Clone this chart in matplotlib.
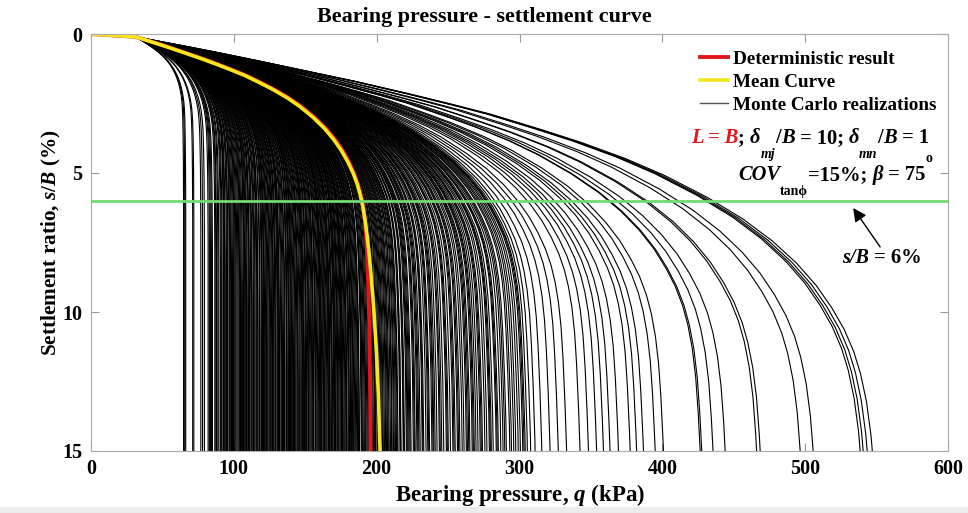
import numpy as np
import matplotlib
matplotlib.use('Agg')
import matplotlib.pyplot as plt
from matplotlib.lines import Line2D
from matplotlib.patches import Rectangle

plt.rcParams['font.family'] = ['Liberation Serif', 'DejaVu Serif']
plt.rcParams['font.weight'] = 'bold'
plt.rcParams['axes.labelweight'] = 'bold'
plt.rcParams['mathtext.fontset'] = 'custom'
plt.rcParams['mathtext.it'] = 'Liberation Serif:italic:bold'
plt.rcParams['mathtext.rm'] = 'Liberation Serif:bold'
plt.rcParams['mathtext.bf'] = 'Liberation Serif:bold'

# deterministic result: settlement ratio s/B (%) and bearing pressure q (kPa)
s_det = [0, 0.1, 0.2, 0.35, 0.5, 0.7, 0.9, 1.1, 1.3, 1.5, 1.75, 2.0, 2.3, 2.6, 3.0,
         3.4, 3.8, 4.2, 4.6, 5.0, 5.4, 5.8, 6.2, 6.7, 7.3, 8.0, 9.0, 10.5, 12.5, 15]
q_det = [0, 31, 37.5, 47, 56, 67.5, 79, 89.5, 99.5, 109, 119, 128.5, 138.5, 147, 156.5,
         164.5, 171, 176.3, 180.6, 184, 186.8, 188.9, 190.4, 191.7, 192.7, 193.4, 194.1,
         194.9, 195.4, 195.8]

# mean of the realizations
s_mean = [0, 0.1, 0.2, 0.35, 0.5, 0.7, 0.9, 1.1, 1.3, 1.5, 1.75, 2.0, 2.3, 2.6, 3.0,
          3.4, 3.8, 4.2, 4.6, 5.0, 5.4, 5.8, 6.2, 6.7, 7.3, 8.0, 9.0, 10.2, 11.5, 13.0, 15]
q_mean = [0, 31, 37.3, 46.5, 55.3, 66.8, 78, 88.5, 98.5, 108, 118, 127.5, 137.5, 146,
          155.5, 163.5, 170, 175.4, 179.8, 183.5, 186.4, 188.6, 190.3, 191.9, 193.4,
          194.9, 196.6, 198.4, 199.9, 201.2, 202.4]

# Monte Carlo realizations, pressure reached at s/B = 15 %
q_mc = [64.8, 65.6, 66.3, 71.2, 72.0, 76.9, 78.1, 79.4,
        82.0, 82.9, 84.3, 85.0, 86.7, 87.4, 88.8, 89.5,
        90.6, 91.2, 92.7, 93.1, 94.0, 94.9, 95.5, 96.8, 97.2, 98.4, 99.1, 99.8,
        100.9, 101.5, 102.2, 103.6, 104.1, 105.3, 106.0, 106.8, 107.7, 108.9, 109.4,
        110.2, 111.0, 111.9, 112.5, 113.8, 114.3, 115.7, 116.2, 117.0, 118.4, 119.3,
        120.1, 120.8, 121.6, 122.9, 123.4, 124.7, 125.2, 126.5, 127.1, 128.0, 128.8, 129.6,
        130.4, 131.3, 132.0, 132.9, 134.1, 134.8, 135.5, 136.9, 137.4, 138.2, 139.0, 139.7,
        140.6, 141.2, 142.5, 143.0, 144.3, 145.1, 145.9, 147.2, 147.8, 148.6, 149.5,
        150.3, 151.0, 151.8, 152.7, 153.3, 154.6, 155.2, 156.0, 156.9, 157.5, 158.8, 159.4,
        160.1, 160.9, 161.7, 162.4, 163.5, 164.0, 165.2, 165.9, 166.8, 167.5, 168.3, 169.2,
        170.0, 170.7, 171.6, 172.3, 173.1, 174.4, 175.0, 175.8, 176.6, 177.9, 178.5, 179.3,
        180.2, 181.0, 181.8, 182.5, 183.7, 184.2, 185.4, 186.1, 187.3, 188.0, 189.2,
        190.0, 191.4, 192.1, 193.3, 194.0, 195.2, 196.5, 197.1, 198.6, 199.4,
        200.3, 201.5, 202.8, 203.4, 204.7, 205.5, 206.9, 207.6, 208.8, 209.7,
        210.5, 211.8, 212.4, 213.9, 215.0, 216.3, 217.1, 218.6, 219.5,
        220.8, 222.0, 223.4, 224.1, 225.7, 227.0, 228.2, 229.6,
        230.5, 231.9, 233.0, 234.6, 235.8, 237.1, 238.7, 239.5,
        241.0, 242.3, 243.9, 245.6, 247.0, 248.8,
        250.2, 251.7, 253.4, 255.0, 256.6, 258.3, 259.9,
        261.2, 262.8, 264.5, 265.3, 266.9, 268.4, 269.6,
        271.0, 272.5, 274.1, 275.8, 277.2, 278.9,
        280.3, 281.6, 283.7, 285.2, 286.9, 288.5,
        290.8, 293.2, 296.0, 297.4, 299.1,
        300.6, 302.3, 304.0, 305.5, 307.8,
        310.9, 315.6, 321.4, 327.2, 333.0, 342.4, 348.3, 354.0, 358.8, 363.4,
        369.3, 377.5, 382.0, 386.8, 395.0, 400.8, 426.5, 427.6, 435.5, 444.0,
        466.0, 468.5, 496.5, 505.6, 538.5, 540.6, 543.4, 547.0,
        83.6, 87.9, 91.8, 93.6, 95.9, 97.8, 100.3, 102.9, 104.7, 107.2, 108.3,
        110.7, 112.9, 114.9, 116.7, 118.0, 119.8, 121.2, 122.3, 124.0, 125.8,
        127.6, 129.1, 130.9, 131.8, 133.5, 135.9, 137.0, 138.6, 140.2, 141.8,
        143.6, 144.8, 146.5, 148.1, 149.0, 150.7, 152.3, 154.0, 155.7, 157.2,
        158.2, 160.5, 161.3, 162.9, 164.6, 166.3, 167.2, 168.8, 170.4, 171.2,
        172.8, 173.7, 175.4, 176.2, 177.3, 179.0, 180.7, 182.1, 183.2, 184.8,
        186.7, 187.8, 189.6, 190.7, 192.6, 194.6, 196.0, 197.8, 199.0, 200.8,
        202.2, 204.1, 206.3, 208.2, 210.9, 213.2, 214.5, 216.8, 219.0, 221.4,
        222.7, 226.4, 228.9, 232.4, 236.5, 240.1, 244.6, 249.5, 254.2, 257.4,
        263.6, 267.7, 273.3, 279.6, 284.4, 289.7, 294.4, 303.2]

s_grid = np.linspace(0, 15, 601)
s_d = np.array(s_det)
q_d = np.array(q_det)
s_k, q_k, q_f = s_det[1], q_det[1], q_det[-1]


def realization(q_end):
    # deterministic shape stretched in s and scaled in q to reach q_end at 15 %
    a = ((q_end - q_k) / (q_f - q_k)) ** 0.6
    s_eff = np.where(s_grid <= s_k, s_grid, s_k + (s_grid - s_k) / a)
    g = np.interp(s_eff, s_d, q_d)
    g_end = np.interp(s_k + (15 - s_k) / a, s_d, q_d)
    return np.where(s_grid <= s_k, g, q_k + (g - q_k) * (q_end - q_k) / (g_end - q_k))


fig = plt.figure(figsize=(9.68, 5.13), dpi=100)
ax = fig.add_axes([91 / 968, 1 - 451 / 513, 857 / 968, 417 / 513])

for q_end in q_mc:
    ax.plot(realization(q_end), s_grid, color='k', lw=0.8)

ax.plot(q_det, s_det, color='#e3161e', lw=2.8)
ax.plot(q_mean, s_mean, color='#f4e71c', lw=2.6)
ax.axhline(6, color='#70dc70', lw=2)

ax.set_xlim(0, 600)
ax.set_ylim(15, 0)
ax.set_xticks(range(0, 601, 100))
ax.set_yticks([0, 5, 10, 15])
ax.tick_params(direction='in', top=True, right=True, length=6, color='#999999',
               labelsize=14.5, pad=6)
for sp in ax.spines.values():
    sp.set_color('#aaaaaa')

ax.set_xlabel('Bearing pressure, $q$ (kPa)', fontsize=16.5, labelpad=2)
ax.set_ylabel('Settlement ratio, $s/B$ (%)', fontsize=15.3, labelpad=0)
fig.text(0.5, 0.967, 'Bearing pressure - settlement curve', ha='center', va='center',
         fontsize=15.9)

handles = [Line2D([], [], color='#e3161e', lw=2.8),
           Line2D([], [], color='#f4e71c', lw=2.6),
           Line2D([], [], color='#555555', lw=1)]
ax.legend(handles, ['Deterministic result', 'Mean Curve', 'Monte Carlo realizations'],
          loc='upper left', bbox_to_anchor=(0.711, 0.96), frameon=False, fontsize=13.8,
          handlelength=1.45, handletextpad=0.25, labelspacing=0.28, borderpad=0,
          borderaxespad=0)


def nxt(prev, txt, base=None, **kw):
    # next piece of text, placed right after prev on the baseline of base
    base = prev if base is None else base
    return ax.annotate(txt, xy=(1, 0), xycoords=(prev, base), ha='left', va='bottom',
                       fontsize=14.8, **kw)


def sub(prev, txt, **kw):
    return ax.annotate(txt, xy=(1, 0), xycoords=prev, ha='left', va='top', fontsize=10,
                       **kw)


# parameters of the case
t = ax.text(420, 4.1, 'L = B', color='#e3161e', fontsize=14.8, fontstyle='italic',
            ha='left', va='bottom')
t = nxt(t, '; ')
d = nxt(t, 'δ', fontstyle='italic')
m = sub(d, 'mj', fontstyle='italic')
t = nxt(m, '/', base=d)
t = nxt(t, 'B', fontstyle='italic')
t = nxt(t, ' = 10; ')
d = nxt(t, 'δ', fontstyle='italic')
m = sub(d, 'mn', fontstyle='italic')
t = nxt(m, '/', base=d)
t = nxt(t, 'B', fontstyle='italic')
t = nxt(t, ' = 1')

c = ax.text(453, 5.42, 'COV', fontsize=14.8, fontstyle='italic', ha='left', va='bottom')
m = sub(c, 'tanϕ')
t = nxt(m, '=15%; ', base=c)
t = nxt(t, 'β', fontstyle='italic')
t = nxt(t, ' = 75')
ax.annotate('o', xy=(1, 1), xycoords=t, ha='left', va='bottom', fontsize=10)

# s/B = 6 % marker
ax.annotate('', xy=(533.6, 6.26), xytext=(552.5, 7.66),
            arrowprops=dict(arrowstyle='-|>', color='k', lw=1, mutation_scale=20,
                            shrinkA=0, shrinkB=0))
t = ax.text(526, 8.42, 's/B', fontsize=14.5, fontstyle='italic', ha='left', va='bottom')
nxt(t, ' = 6%')

fig.add_artist(Rectangle((0, 0), 1, 6 / 513, transform=fig.transFigure,
                         color='#ececec', lw=0))

fig.savefig('out.png', dpi=100)
